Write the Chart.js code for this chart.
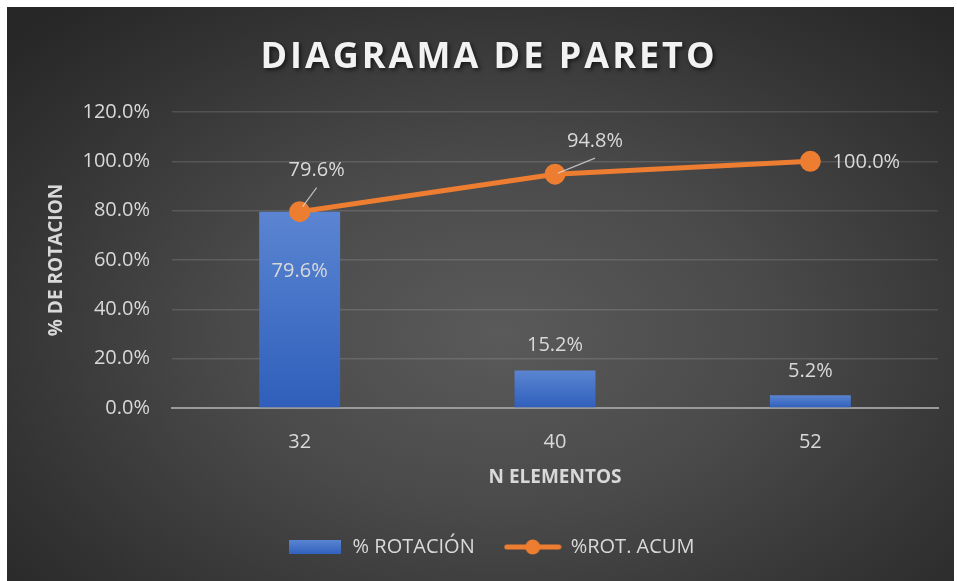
<!DOCTYPE html>
<html>
<head>
<meta charset="utf-8">
<script src="https://cdn.jsdelivr.net/npm/chart.js@4.4.0/dist/chart.umd.min.js"></script>
<style>
html, body { margin: 0; padding: 0; background: #fff; }
#marco {
  position: absolute; left: 7px; top: 7px; width: 947px; height: 574px;
  background: radial-gradient(ellipse 70% 75% at 52% 57%, #5a5a5a 0%, #4a4a4a 40%, #333 78%, #272727 100%);
}
canvas { display: block; }
</style>
</head>
<body>
<div id="marco"><canvas id="grafico" width="947" height="574"></canvas></div>
<script>
const categorias = ['32', '40', '52'];
const rotacion = [79.6, 15.2, 5.2];
const acumulado = [79.6, 94.8, 100.0];
const titulo = 'DIAGRAMA DE PARETO';

const texto = '#d9d9d9';
const naranja = '#ED7D31';
Chart.defaults.font.family = "'Open Sans', sans-serif";
Chart.defaults.color = texto;

// iconos de la leyenda
function iconoBarra() {
  const c = document.createElement('canvas');
  c.width = 52; c.height = 14;
  const g = c.getContext('2d');
  const grad = g.createLinearGradient(0, 0, 0, 14);
  grad.addColorStop(0, '#5b85d2');
  grad.addColorStop(1, '#3162be');
  g.fillStyle = grad;
  g.fillRect(0, 0, 52, 14);
  return c;
}
function iconoLinea() {
  const c = document.createElement('canvas');
  c.width = 58; c.height = 18;
  const g = c.getContext('2d');
  g.strokeStyle = naranja; g.lineWidth = 5; g.lineCap = 'round';
  g.beginPath(); g.moveTo(3, 9); g.lineTo(55, 9); g.stroke();
  g.fillStyle = naranja;
  g.beginPath(); g.arc(29, 9, 7.5, 0, Math.PI * 2); g.fill();
  return c;
}
const iconos = [iconoBarra(), iconoLinea()];

// degradado por barra
function colorBarra(ctx) {
  const chart = ctx.chart;
  const y = chart.scales.y;
  if (!chart.chartArea || !y) return '#4472C4';
  const top = y.getPixelForValue(ctx.raw);
  const base = y.getPixelForValue(0);
  if (!isFinite(top) || !isFinite(base) || base - top < 1) return '#4472C4';
  const grad = chart.ctx.createLinearGradient(0, top, 0, base);
  grad.addColorStop(0, '#5b85d2');
  grad.addColorStop(1, '#2f5fbb');
  return grad;
}

const tituloPlugin = {
  id: 'tituloPareto',
  afterDraw(chart) {
    const c = chart.ctx;
    c.save();
    c.font = "bold 36px 'Open Sans', sans-serif";
    c.letterSpacing = '3px';
    c.textAlign = 'center';
    c.textBaseline = 'middle';
    c.shadowColor = 'rgba(0,0,0,0.6)';
    c.shadowBlur = 4; c.shadowOffsetX = 2; c.shadowOffsetY = 2;
    c.fillStyle = '#f2f2f2';
    c.fillText(titulo, 482, 51);
    c.restore();
  }
};

const etiquetasPlugin = {
  id: 'etiquetas',
  afterDatasetsDraw(chart) {
    const c = chart.ctx;
    c.save();
    c.font = "20px 'Open Sans', sans-serif";
    c.fillStyle = texto;
    c.textAlign = 'center';
    c.textBaseline = 'middle';
    // barras
    const dyBarra = [60, -25, -24];
    chart.getDatasetMeta(0).data.forEach((el, i) => {
      c.fillText(rotacion[i].toFixed(1) + '%', el.x, el.y + dyBarra[i]);
    });
    // linea acumulada
    const off = [[17, -41], [40, -33], [56, 1]];
    const guia = [[[3, -5], [17, -24]], [[3, -1], [40, -16]], null];
    chart.getDatasetMeta(1).data.forEach((el, i) => {
      if (guia[i]) {
        c.strokeStyle = 'rgba(217,217,217,0.8)';
        c.lineWidth = 1.2;
        c.beginPath();
        c.moveTo(el.x + guia[i][0][0], el.y + guia[i][0][1]);
        c.lineTo(el.x + guia[i][1][0], el.y + guia[i][1][1]);
        c.stroke();
      }
      c.fillText(acumulado[i].toFixed(1) + '%', el.x + off[i][0], el.y + off[i][1]);
    });
    c.restore();
  }
};

new Chart(document.getElementById('grafico'), {
  data: {
    labels: categorias,
    datasets: [
      {
        type: 'bar',
        label: '% ROTACIÓN',
        data: rotacion,
        backgroundColor: colorBarra,
        categoryPercentage: 1,
        barPercentage: 0.317,
        order: 1
      },
      {
        type: 'line',
        label: '%ROT. ACUM',
        data: acumulado,
        borderColor: naranja,
        backgroundColor: naranja,
        borderWidth: 5,
        pointRadius: 8,
        pointBackgroundColor: naranja,
        pointBorderColor: naranja,
        order: 0
      }
    ]
  },
  options: {
    responsive: false,
    animation: false,
    layout: { padding: { left: 36, right: 16, top: 105, bottom: 14 } },
    scales: {
      x: {
        grid: { display: false },
        border: { color: '#9a9a9a', width: 2 },
        ticks: { font: { size: 20 }, color: texto, padding: 14 },
        title: { display: true, text: 'N ELEMENTOS', color: texto, font: { size: 19, weight: 'bold' }, padding: { top: 0, bottom: 18 } },
        afterFit(s) { s.height = 99; }
      },
      y: {
        min: 0, max: 120,
        ticks: { stepSize: 20, font: { size: 20 }, color: texto, padding: 22, callback: v => v.toFixed(1) + '%' },
        grid: { color: 'rgba(255,255,255,0.13)', lineWidth: 1.5, drawTicks: false },
        border: { display: false },
        title: { display: true, text: '% DE ROTACION', color: texto, font: { size: 19, weight: 'bold' }, padding: { top: 2, bottom: 0 } },
        afterFit(s) { s.width = 129; }
      }
    },
    plugins: {
      tooltip: { enabled: false },
      legend: {
        position: 'bottom',
        labels: {
          usePointStyle: true,
          pointStyleWidth: 56,
          padding: 30,
          color: texto,
          font: { size: 20 },
          sort: (a, b) => a.datasetIndex - b.datasetIndex,
          generateLabels(chart) {
            const items = Chart.defaults.plugins.legend.labels.generateLabels(chart);
            items.forEach(it => { it.pointStyle = iconos[it.datasetIndex]; });
            return items;
          }
        }
      }
    }
  },
  plugins: [tituloPlugin, etiquetasPlugin]
});
</script>
</body>
</html>
